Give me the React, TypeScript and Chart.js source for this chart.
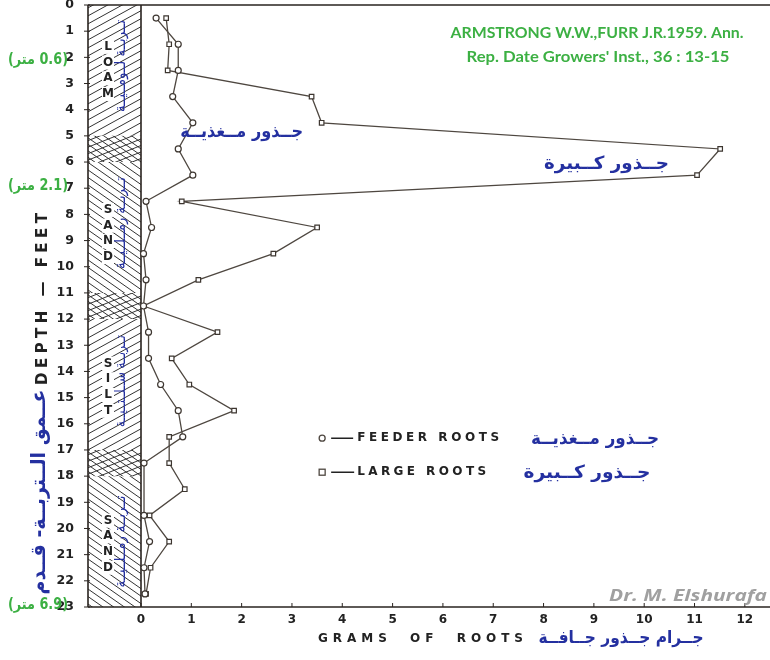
import React, { useEffect, useRef } from "react";
import { Chart, registerables } from "chart.js";
Chart.register(...registerables);

// ---- data (depth in feet, grams of dry roots) ----
const depthFeet = [0.5, 1.5, 2.5, 3.5, 4.5, 5.5, 6.5, 7.5, 8.5, 9.5, 10.5, 11.5, 12.5, 13.5, 14.5, 15.5, 16.5, 17.5, 18.5, 19.5, 20.5, 21.5, 22.5];
const feederRoots: (number | null)[] = [0.30, 0.74, 0.74, 0.63, 1.03, 0.74, 1.03, 0.10, 0.21, 0.05, 0.10, 0.05, 0.15, 0.15, 0.39, 0.74, 0.83, 0.06, null, 0.06, 0.17, 0.06, 0.08];
const largeRoots: (number | null)[] = [0.50, 0.56, 0.53, 3.39, 3.59, 11.51, 11.05, 0.81, 3.50, 2.63, 1.14, 0.05, 1.52, 0.61, 0.96, 1.85, 0.56, 0.56, 0.87, 0.17, 0.56, 0.19, 0.10];
const xTickValues = [0, 1, 2, 3, 4, 5, 6, 7, 8, 9, 10, 11, 12];
const yTickValues = [0, 1, 2, 3, 4, 5, 6, 7, 8, 9, 10, 11, 12, 13, 14, 15, 16, 17, 18, 19, 20, 21, 22, 23];

// soil profile
const layerTops = [0, 5, 6, 11, 12, 17, 18];
const layerBottoms = [5, 6, 11, 12, 17, 18, 23];
const layerPatterns = ["/", "x", "\\", "x", "/", "x", "\\"];
const soilWords = ["LOAM", "SAND", "SILT", "SAND"];
const soilWordStarts = [1.6, 7.83, 13.7, 19.7];
const soilArabic = ["تــربــة لــومــيــة", "تــربــة رمــلــيــة", "تــربــة ســلــتــيــة", "تــربــة رمــلــيــة"];
const soilArabicCenters = [2.33, 8.33, 14.37, 20.5];
const metreNumbers = ["0.6", "2.1", "6.9"];
const metreDepths = [2.2, 7.0, 23.0];

const LINE = "#4e4740";
const BLUE = "#2430a0";
const GREEN = "#3cb043";
const INK = "#222222";

function fitText(ctx: CanvasRenderingContext2D, text: string, cx: number, cy: number, width: number, font: string, color: string) {
  ctx.save();
  ctx.font = font;
  const w = ctx.measureText(text).width || 1;
  ctx.translate(cx, cy);
  ctx.scale(width / w, 1);
  ctx.fillStyle = color;
  ctx.textAlign = "center";
  ctx.textBaseline = "middle";
  ctx.fillText(text, 0, 0);
  ctx.restore();
}

function spacedText(ctx: CanvasRenderingContext2D, text: string, x: number, y: number, width: number, font: string, color: string) {
  ctx.save();
  ctx.font = font;
  ctx.fillStyle = color;
  ctx.textAlign = "left";
  ctx.textBaseline = "middle";
  const chars = text.split("");
  const widths = chars.map((c) => ctx.measureText(c).width);
  const natural = widths.reduce((a, b) => a + b, 0);
  const gap = chars.length > 1 ? (width - natural) / (chars.length - 1) : 0;
  let cx = x;
  chars.forEach((c, i) => {
    ctx.fillText(c, cx, y);
    cx += widths[i] + gap;
  });
  ctx.restore();
}

// draws pieces left-to-right (no bidi reordering between them), scaled to width
function piecesText(ctx: CanvasRenderingContext2D, pieces: string[], left: number, cy: number, width: number, font: string, color: string) {
  ctx.save();
  ctx.font = font;
  ctx.fillStyle = color;
  ctx.textAlign = "left";
  ctx.textBaseline = "middle";
  const ws = pieces.map((p) => ctx.measureText(p).width);
  const total = ws.reduce((a, b) => a + b, 0) || 1;
  ctx.translate(left, cy);
  ctx.scale(width / total, 1);
  let x = 0;
  pieces.forEach((p, i) => {
    ctx.fillText(p, x, 0);
    x += ws[i];
  });
  ctx.restore();
}

const decorPlugin = {
  id: "decor",
  beforeDatasetsDraw(chart: any) {
    const ctx: CanvasRenderingContext2D = chart.ctx;
    const ys = chart.scales.y;
    const area = chart.chartArea;
    const colRight = area.left;
    const colLeft = area.left - 53;
    const w = colRight - colLeft;
    ctx.save();
    ctx.strokeStyle = "#333";
    ctx.lineWidth = 1;
    layerTops.forEach((top, i) => {
      const y0 = ys.getPixelForValue(top);
      const y1 = ys.getPixelForValue(layerBottoms[i]);
      const pat = layerPatterns[i];
      ctx.save();
      ctx.beginPath();
      ctx.rect(colLeft, y0, w, y1 - y0);
      ctx.clip();
      ctx.beginPath();
      const drawSet = (slope: number, spacing: number) => {
        for (let c = y0 - Math.abs(slope) * w - spacing; c < y1 + Math.abs(slope) * w + spacing; c += spacing) {
          ctx.moveTo(colLeft, c);
          ctx.lineTo(colRight, c + slope * w);
        }
      };
      if (pat === "/") drawSet(-0.55, 8);
      if (pat === "\\") drawSet(0.7, 7.5);
      if (pat === "x") { drawSet(-0.4, 6.5); drawSet(0.7, 6.5); }
      ctx.stroke();
      ctx.restore();
    });
    // letters inside column
    ctx.font = "bold 12px 'DejaVu Sans'";
    ctx.textAlign = "center";
    ctx.textBaseline = "middle";
    soilWords.forEach((word, i) => {
      word.split("").forEach((ch, j) => {
        const py = ys.getPixelForValue(soilWordStarts[i] + j * 0.6);
        const px = colLeft + 20;
        ctx.fillStyle = "#fff";
        ctx.fillRect(px - 6, py - 7, 12, 14);
        ctx.fillStyle = INK;
        ctx.fillText(ch, px, py);
      });
    });
    // blue arabic vertical labels
    soilArabic.forEach((t, i) => {
      const py = ys.getPixelForValue(soilArabicCenters[i]);
      ctx.save();
      ctx.translate(colLeft + 33, py);
      ctx.rotate(-Math.PI / 2);
      fitText(ctx, t, 0, 0, 92, "15px 'DejaVu Sans'", BLUE);
      ctx.restore();
    });
    // borders
    ctx.strokeStyle = "#2a2420";
    ctx.lineWidth = 1.6;
    ctx.beginPath();
    ctx.moveTo(colLeft, area.top);
    ctx.lineTo(area.right, area.top);
    ctx.moveTo(colLeft, area.bottom);
    ctx.lineTo(area.right, area.bottom);
    ctx.moveTo(colLeft, area.top);
    ctx.lineTo(colLeft, area.bottom);
    ctx.moveTo(colRight, area.top);
    ctx.lineTo(colRight, area.bottom);
    ctx.stroke();
    // tick marks
    ctx.lineWidth = 1;
    ctx.beginPath();
    yTickValues.forEach((v) => {
      const py = ys.getPixelForValue(v);
      ctx.moveTo(colLeft - 4, py);
      ctx.lineTo(colLeft + 2, py);
    });
    const xs = chart.scales.x;
    xTickValues.forEach((v) => {
      const px = xs.getPixelForValue(v);
      ctx.moveTo(px, area.bottom);
      ctx.lineTo(px, area.bottom - 4);
    });
    ctx.stroke();
    ctx.restore();
  },
  afterDraw(chart: any) {
    const ctx: CanvasRenderingContext2D = chart.ctx;
    const xs = chart.scales.x;
    const ys = chart.scales.y;
    const area = chart.chartArea;

    // citation
    fitText(ctx, "ARMSTRONG W.W.,FURR J.R.1959. Ann.", 597, 33, 293, "bold 15px Lato", GREEN);
    fitText(ctx, "Rep. Date Growers' Inst., 36 : 13-15", 598, 57, 263, "bold 15px Lato", GREEN);

    // curve annotations
    fitText(ctx, "جــذور مــغذيــة", xs.getPixelForValue(2.0), ys.getPixelForValue(4.88), 123, "bold 18px 'DejaVu Sans'", BLUE);
    fitText(ctx, "جــذور كــبيرة", xs.getPixelForValue(9.25), ys.getPixelForValue(6.1), 125, "bold 18px 'DejaVu Sans'", BLUE);

    // legend
    const lx = xs.getPixelForValue(3.6);
    const ly1 = ys.getPixelForValue(16.55);
    const ly2 = ys.getPixelForValue(17.85);
    ctx.save();
    ctx.strokeStyle = LINE;
    ctx.lineWidth = 1.3;
    ctx.fillStyle = "#fff";
    ctx.beginPath();
    ctx.arc(lx, ly1, 3, 0, Math.PI * 2);
    ctx.fill();
    ctx.stroke();
    ctx.fillRect(lx - 3, ly2 - 3, 6, 6);
    ctx.strokeRect(lx - 3, ly2 - 3, 6, 6);
    ctx.lineWidth = 1.6;
    ctx.strokeStyle = INK;
    ctx.beginPath();
    ctx.moveTo(lx + 9, ly1);
    ctx.lineTo(lx + 31, ly1);
    ctx.moveTo(lx + 9, ly2);
    ctx.lineTo(lx + 32, ly2);
    ctx.stroke();
    ctx.restore();
    spacedText(ctx, "FEEDER ROOTS", lx + 35, ly1, 142, "bold 12px 'DejaVu Sans'", INK);
    spacedText(ctx, "LARGE ROOTS", lx + 35, ly2, 129, "bold 12px 'DejaVu Sans'", INK);
    fitText(ctx, "جــذور مــغذيــة", 595, ly1 + 1, 128, "bold 18px 'DejaVu Sans'", BLUE);
    fitText(ctx, "جــذور كــبيرة", 587, ly2 + 1, 127, "bold 18px 'DejaVu Sans'", BLUE);

    // x-axis title
    spacedText(ctx, "GRAMS  OF  ROOTS", 318, 639, 205, "bold 12px 'DejaVu Sans'", INK);
    fitText(ctx, "جــرام جــذور جــافــة", 621, 639, 165, "bold 17px 'DejaVu Sans'", BLUE);

    // watermark
    fitText(ctx, "Dr. M. Elshurafa", 688, 596, 158, "bold italic 16px 'Open Sans'", "#a0a0a0");

    // y-axis titles (rotated)
    ctx.save();
    ctx.translate(43, 299);
    ctx.rotate(-Math.PI / 2);
    spacedText(ctx, "DEPTH — FEET", -86, 0, 172, "bold 15px 'DejaVu Sans'", INK);
    ctx.restore();
    ctx.save();
    ctx.translate(40, 492);
    ctx.rotate(-Math.PI / 2);
    fitText(ctx, "عــمق الــتربــة- قــدم", 0, 0, 205, "bold 20px 'DejaVu Sans'", BLUE);
    ctx.restore();

    // metre labels: "(" "متر" " 0.6)"
    metreNumbers.forEach((n, i) => {
      const py = Math.min(ys.getPixelForValue(metreDepths[i]), area.bottom) - 2;
      piecesText(ctx, ["(", "متر", " " + n + ")"], 8, py, 60, "bold 15px 'DejaVu Sans'", GREEN);
    });
  },
};

export default function App() {
  const ref = useRef<HTMLCanvasElement | null>(null);
  useEffect(() => {
    if (!ref.current) return;
    const toPoints = (vals: (number | null)[]) =>
      depthFeet.map((d, i) => ({ x: vals[i], y: d })).filter((p) => p.x !== null) as { x: number; y: number }[];
    const chart = new Chart(ref.current, {
      type: "scatter",
      data: {
        datasets: [
          {
            label: "FEEDER ROOTS",
            data: toPoints(feederRoots),
            showLine: true,
            borderColor: LINE,
            borderWidth: 1.3,
            pointStyle: "circle",
            pointRadius: 3,
            pointBackgroundColor: "#fff",
            pointBorderColor: "#3d3630",
            pointBorderWidth: 1.2,
            clip: false as any,
          },
          {
            label: "LARGE ROOTS",
            data: toPoints(largeRoots),
            showLine: true,
            borderColor: LINE,
            borderWidth: 1.3,
            pointStyle: "rect",
            pointRadius: 3.2,
            pointBackgroundColor: "#fff",
            pointBorderColor: "#3d3630",
            pointBorderWidth: 1.2,
            clip: false as any,
          },
        ],
      },
      options: {
        animation: false,
        responsive: false,
        layout: { autoPadding: false, padding: { top: 5, left: 0, right: 0, bottom: 0 } },
        plugins: { legend: { display: false }, tooltip: { enabled: false } },
        scales: {
          x: {
            type: "linear",
            min: 0,
            max: 12.5,
            grid: { display: false },
            border: { display: false },
            ticks: {
              stepSize: 1,
              padding: -2,
              color: INK,
              font: { family: "'DejaVu Sans'", size: 12, weight: "bold" },
            },
            afterBuildTicks: (s: any) => {
              s.ticks = xTickValues.map((v) => ({ value: v }));
            },
            afterFit: (s: any) => {
              s.height = 53;
              s.paddingLeft = 0;
              s.paddingRight = 0;
            },
          },
          y: {
            type: "linear",
            reverse: true,
            min: 0,
            max: 23,
            grid: { display: false },
            border: { display: false },
            ticks: {
              stepSize: 1,
              padding: 59,
              color: INK,
              font: { family: "'DejaVu Sans'", size: 12.5, weight: "bold" },
            },
            afterBuildTicks: (s: any) => {
              s.ticks = yTickValues.map((v) => ({ value: v }));
            },
            afterFit: (s: any) => {
              s.width = 141;
              s.paddingTop = 0;
              s.paddingBottom = 0;
            },
          },
        },
      },
      plugins: [decorPlugin],
    });
    return () => chart.destroy();
  }, []);
  return (
    <div style={{ position: "fixed", left: 0, top: 0, width: 770, height: 660, background: "#fff" }}>
      <canvas ref={ref} width={770} height={660} style={{ width: 770, height: 660 }} />
    </div>
  );
}
